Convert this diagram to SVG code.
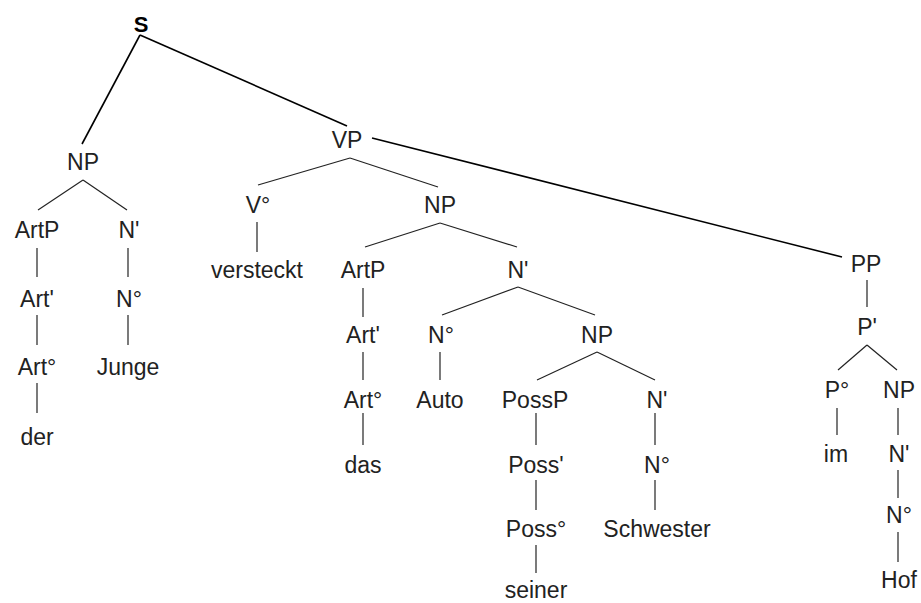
<svg xmlns="http://www.w3.org/2000/svg" width="921" height="603" viewBox="0 0 921 603">
<style>
text{font-family:"Liberation Sans",Arial,sans-serif;font-size:23px;fill:#222;text-anchor:middle}
.b{font-weight:bold;fill:#000;font-size:22px}
.e line{stroke:#222;stroke-width:1.2}
.e .t{stroke:#000;stroke-width:1.6}
</style>
<rect width="921" height="603" fill="#fff"/>
<g id="edges" class="e">
<line class="t" x1="140" y1="35" x2="82" y2="144"/>
<line class="t" x1="140" y1="35" x2="347" y2="126"/>
<line x1="83" y1="180" x2="38" y2="210"/>
<line x1="83" y1="180" x2="127" y2="210"/>
<line x1="37" y1="248" x2="37" y2="277"/>
<line x1="37" y1="315" x2="37" y2="345"/>
<line x1="37" y1="383" x2="37" y2="413"/>
<line x1="128" y1="248" x2="128" y2="277"/>
<line x1="128" y1="315" x2="128" y2="345"/>
<line x1="350" y1="158" x2="258" y2="185"/>
<line x1="350" y1="158" x2="438" y2="187"/>
<line class="t" x1="372" y1="138" x2="842" y2="257"/>
<line x1="257" y1="222" x2="257" y2="252"/>
<line x1="440" y1="223" x2="365" y2="247"/>
<line x1="440" y1="223" x2="517" y2="247"/>
<line x1="363" y1="288" x2="363" y2="317"/>
<line x1="363" y1="352" x2="363" y2="380"/>
<line x1="363" y1="413" x2="363" y2="445"/>
<line x1="518" y1="287" x2="442" y2="315"/>
<line x1="518" y1="287" x2="595" y2="315"/>
<line x1="440" y1="352" x2="440" y2="380"/>
<line x1="597" y1="352" x2="537" y2="380"/>
<line x1="597" y1="352" x2="655" y2="380"/>
<line x1="536" y1="413" x2="536" y2="445"/>
<line x1="536" y1="480" x2="536" y2="510"/>
<line x1="536" y1="545" x2="536" y2="573"/>
<line x1="655" y1="413" x2="655" y2="445"/>
<line x1="655" y1="480" x2="655" y2="510"/>
<line x1="867" y1="280" x2="867" y2="307"/>
<line x1="867" y1="345" x2="838" y2="370"/>
<line x1="867" y1="345" x2="897" y2="370"/>
<line x1="837" y1="408" x2="837" y2="435"/>
<line x1="898" y1="408" x2="898" y2="435"/>
<line x1="898" y1="470" x2="898" y2="498"/>
<line x1="898" y1="532" x2="898" y2="562"/>
</g>
<g id="n-S"><text class="b" x="141" y="32">S</text></g>
<g id="n-NP1"><text x="83" y="170">NP</text></g>
<g id="n-ArtP1"><text x="37" y="238">ArtP</text></g>
<g id="n-N1b"><text x="129" y="238">N'</text></g>
<g id="n-Art1b"><text x="37" y="307">Art'</text></g>
<g id="n-N1z"><text x="129" y="307">N°</text></g>
<g id="n-Art1z"><text x="37" y="375">Art°</text></g>
<g id="n-Junge"><text x="128" y="375">Junge</text></g>
<g id="n-der"><text x="37" y="445">der</text></g>
<g id="n-VP"><text x="347" y="148">VP</text></g>
<g id="n-Vz"><text x="258" y="213">V°</text></g>
<g id="n-versteckt"><text x="257" y="278">versteckt</text></g>
<g id="n-NP2"><text x="440" y="213">NP</text></g>
<g id="n-ArtP2"><text x="363" y="278">ArtP</text></g>
<g id="n-Art2b"><text x="363" y="343">Art'</text></g>
<g id="n-Art2z"><text x="363" y="408">Art°</text></g>
<g id="n-das"><text x="363" y="473">das</text></g>
<g id="n-N2b"><text x="518" y="278">N'</text></g>
<g id="n-N2z"><text x="441" y="343">N°</text></g>
<g id="n-Auto"><text x="440" y="408">Auto</text></g>
<g id="n-NP3"><text x="597" y="343">NP</text></g>
<g id="n-PossP"><text x="535" y="408">PossP</text></g>
<g id="n-Possb"><text x="536" y="473">Poss'</text></g>
<g id="n-Possz"><text x="536" y="537">Poss°</text></g>
<g id="n-seiner"><text x="536" y="598">seiner</text></g>
<g id="n-N3b"><text x="657" y="408">N'</text></g>
<g id="n-N3z"><text x="657" y="473">N°</text></g>
<g id="n-Schwester"><text x="657" y="537">Schwester</text></g>
<g id="n-PP"><text x="866" y="272">PP</text></g>
<g id="n-Pb"><text x="867" y="335">P'</text></g>
<g id="n-Pz"><text x="837" y="398">P°</text></g>
<g id="n-im"><text x="836" y="462">im</text></g>
<g id="n-NP4"><text x="899" y="398">NP</text></g>
<g id="n-N4b"><text x="899" y="462">N'</text></g>
<g id="n-N4z"><text x="899" y="523">N°</text></g>
<g id="n-Hof"><text x="899" y="588">Hof</text></g>
</svg>
